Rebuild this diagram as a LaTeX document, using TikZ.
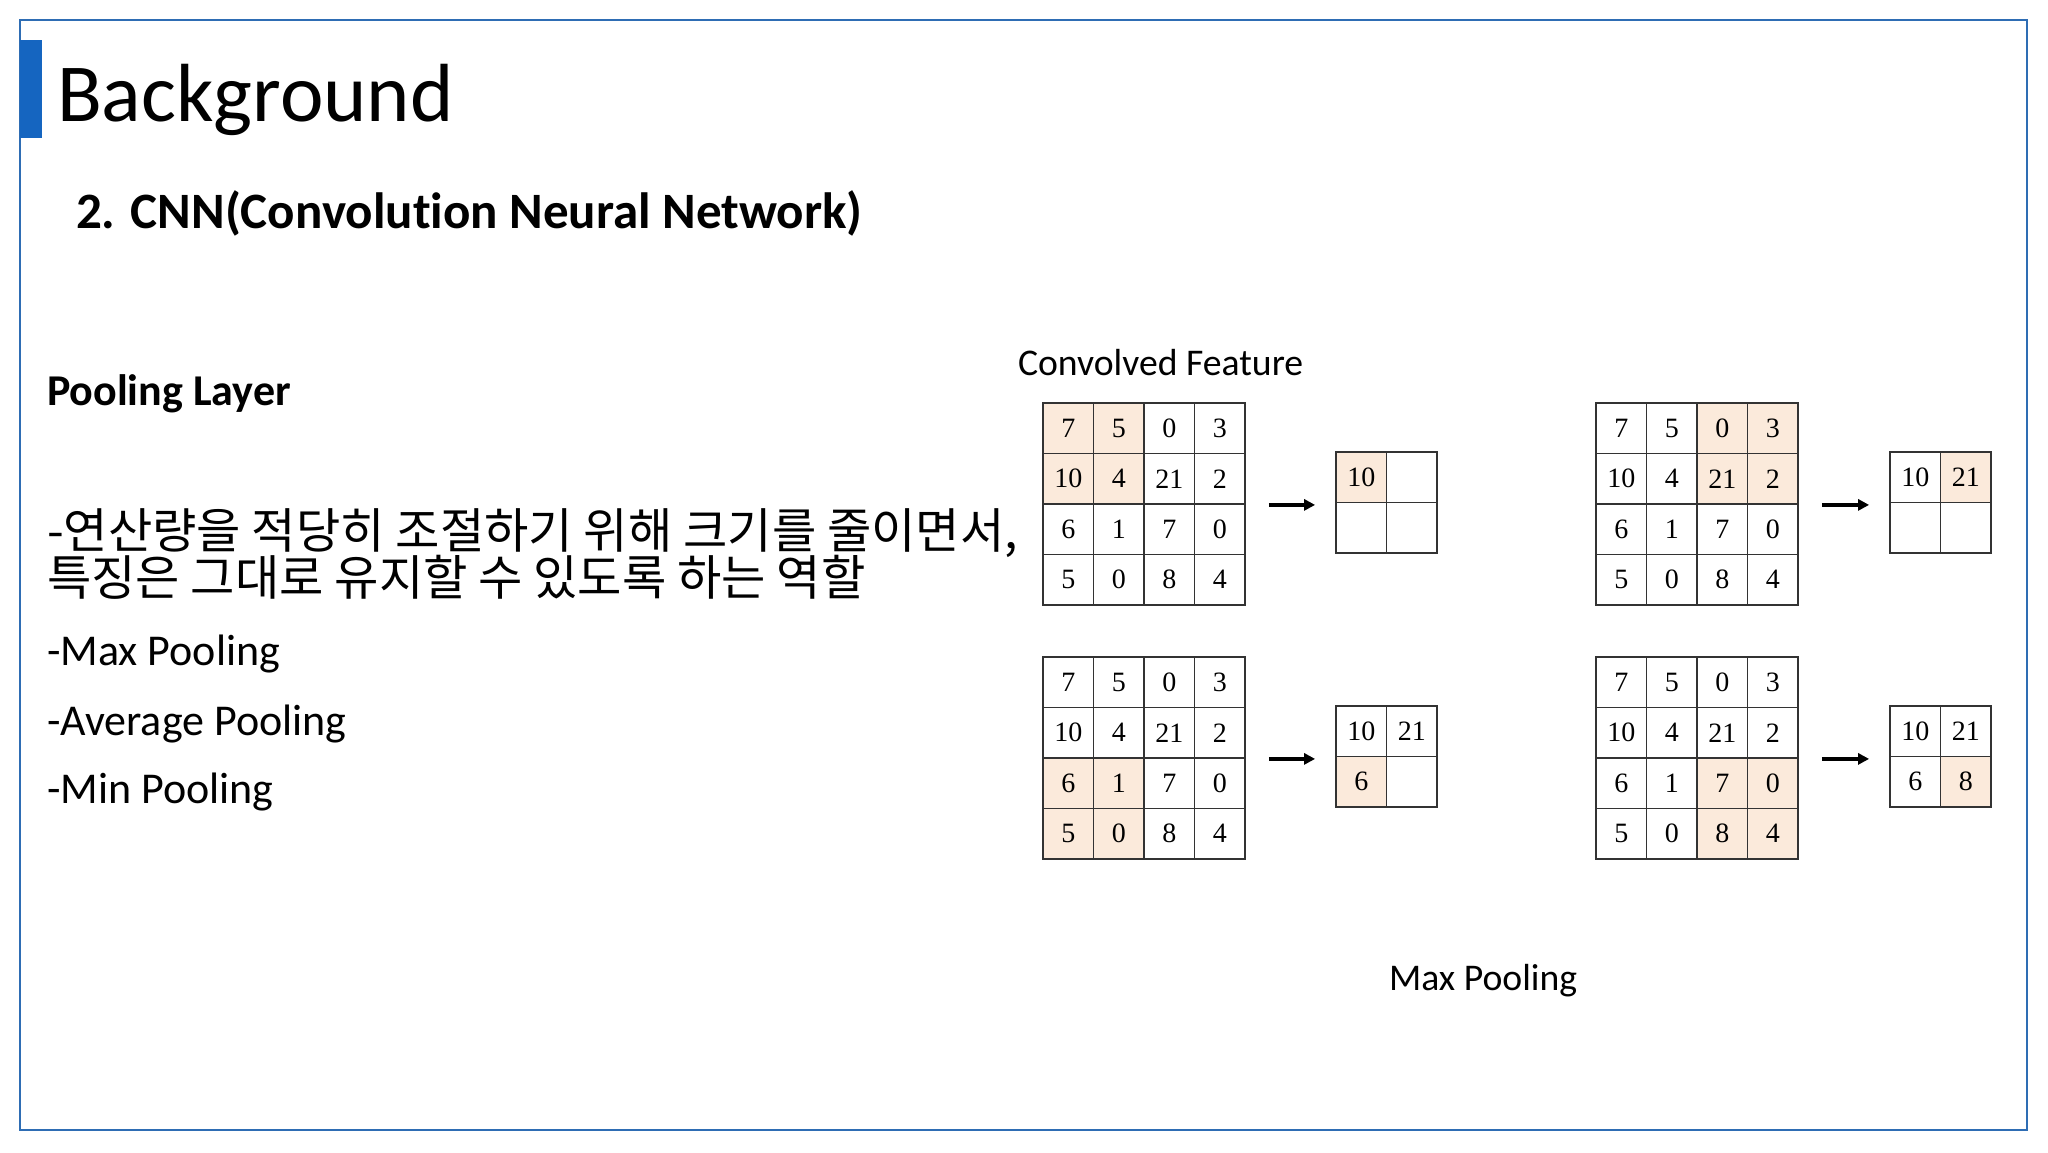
\documentclass[tikz,border=0pt]{standalone}
\usepackage{fontspec}
\setmainfont{Carlito}[Ligatures={NoCommon},RawFeature={-liga;-clig;-dlig}]
\newfontfamily\kr{Noto Sans CJK KR}
\newfontfamily\tnr{Liberation Serif}
\usetikzlibrary{arrows.meta}
\definecolor{framecol}{HTML}{2E6DB4}
\definecolor{barcol}{HTML}{1565C0}
\definecolor{peach}{HTML}{FBEADB}
\tikzset{
  txt/.style={anchor=base west, inner sep=0pt, outer sep=0pt},
  cell/.style={draw=black!80, line width=1.8pt, minimum size=50.5pt, inner sep=0pt, font=\tnr\fontsize{28}{30}\selectfont},
  arr/.style={line width=3.5pt, -{Triangle[length=11pt,width=11pt]}}
}
% #1 name, #2 x0, #3 y0, #4 highlight column, #5 highlight row
\newcommand\featgrid[5]{%
  \foreach \rowvals [count=\i from 0] in {{7,5,0,3},{10,4,21,2},{6,1,7,0},{5,0,8,4}} {
    \foreach \v [count=\j from 0] in \rowvals {
      \pgfmathtruncatemacro\hl{(\i>=#5)&&(\i<=#5+1)&&(\j>=#4)&&(\j<=#4+1)}
      \ifnum\hl=1 \def\cf{peach}\else\def\cf{white}\fi
      \node[cell, fill=\cf] (#1-\i-\j) at (#2+\j*50.5+25.25, #3+\i*50.5+25.25) {\v};
    }
  }
}
% #1 name, #2 x0, #3 y0, #4 hl col, #5 hl row, #6 values (4 entries)
\newcommand\outgrid[6]{%
  \foreach \v [count=\k from 0] in {#6} {
    \pgfmathtruncatemacro\i{int(\k/2)}
    \pgfmathtruncatemacro\j{mod(\k,2)}
    \pgfmathtruncatemacro\hl{(\i==#5)&&(\j==#4)}
    \ifnum\hl=1 \def\cf{peach}\else\def\cf{white}\fi
    \node[cell, fill=\cf] (#1-\i-\j) at (#2+\j*50.5+25.25, #3+\i*50.5+25.25) {\v};
  }
}
\begin{document}
\begin{tikzpicture}[x=1pt,y=-1pt]
\useasboundingbox (0,0) rectangle (2048,1152);
\fill[white] (0,0) rectangle (2048,1152);
\draw[framecol, line width=2.4pt] (20,20) rectangle (2027,1130);
\fill[barcol] (20,40) rectangle (42,138);

\node[txt, font=\fontsize{82.5}{96}\selectfont] (title) at (57,121) {Background};
\node[txt, font=\bfseries\fontsize{51}{60}\selectfont] (sub) at (76,228) {2. CNN(Convolution Neural Network)};
\node[txt, font=\bfseries\fontsize{44}{52}\selectfont] (pool) at (47,405) {Pooling Layer};
\node[txt, font=\kr\fontsize{48.2}{47}\selectfont] (kr1) at (47,548) {-연산량을 적당히 조절하기 위해 크기를 줄이면서,};
\node[txt, font=\kr\fontsize{48.2}{47}\selectfont] (kr2) at (47,595) {특징은 그대로 유지할 수 있도록 하는 역할};
\node[txt, font=\fontsize{44}{52}\selectfont] (maxp) at (47,665) {-Max Pooling};
\node[txt, font=\fontsize{44}{52}\selectfont] (avgp) at (47,735) {-Average Pooling};
\node[txt, font=\fontsize{44}{52}\selectfont] (minp) at (47,803) {-Min Pooling};

\node[txt, font=\fontsize{37.7}{45}\selectfont] (conv) at (1018,375) {Convolved Feature};
\node[txt, font=\fontsize{37.7}{45}\selectfont] (maxlab) at (1389,990) {Max Pooling};

\featgrid{ga}{1043}{403}{0}{0}
\outgrid{oa}{1336}{452}{0}{0}{10,,,}
\featgrid{gb}{1596}{403}{2}{0}
\outgrid{ob}{1890}{452}{1}{0}{10,21,,}
\featgrid{gc}{1043}{657}{0}{2}
\outgrid{oc}{1336}{706}{0}{1}{10,21,6,}
\featgrid{gd}{1596}{657}{2}{2}
\outgrid{od}{1890}{706}{1}{1}{10,21,6,8}

\draw[arr] ([xshift=23pt]ga-1-3.south east) -- ([xshift=-20pt]oa-0-0.south west |- ga-1-3.south east);
\draw[arr] ([xshift=23pt]gb-1-3.south east) -- ([xshift=-20pt]ob-0-0.south west |- gb-1-3.south east);
\draw[arr] ([xshift=23pt]gc-1-3.south east) -- ([xshift=-20pt]oc-0-0.south west |- gc-1-3.south east);
\draw[arr] ([xshift=23pt]gd-1-3.south east) -- ([xshift=-20pt]od-0-0.south west |- gd-1-3.south east);
\end{tikzpicture}
\end{document}
